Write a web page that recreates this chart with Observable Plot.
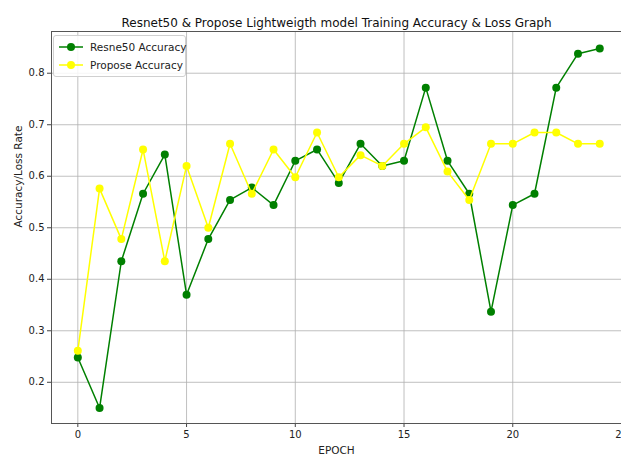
<!DOCTYPE html>
<html><head><meta charset="utf-8">
<script src="https://cdn.jsdelivr.net/npm/d3@7"></script>
<script src="https://cdn.jsdelivr.net/npm/@observablehq/plot@0.6"></script>
<style>
html,body{margin:0;padding:0;background:#fff;overflow:hidden;}
#wrap{position:relative;width:621px;height:459px;font-family:"DejaVu Sans",sans-serif;}
#legend{position:absolute;left:53px;top:35px;width:133px;height:42px;border:1px solid #d0d0d0;border-radius:3px;background:rgba(255,255,255,0.85);box-sizing:border-box;font-size:10.5px;color:#222;}
.item{position:absolute;left:4px;height:16px;display:flex;align-items:center;white-space:nowrap;}
.item svg{margin-right:6px;flex:none;}
</style>
</head><body>
<div id="wrap"><div id="chart"></div><div id="legend"></div></div>
<script>
const epochs = [0,1,2,3,4,5,6,7,8,9,10,11,12,13,14,15,16,17,18,19,20,21,22,23,24];
const resnetAcc = [0.248,0.150,0.435,0.566,0.642,0.370,0.478,0.554,0.578,0.544,0.630,0.652,0.587,0.663,0.620,0.630,0.772,0.630,0.566,0.337,0.544,0.566,0.772,0.838,0.848];
const proposeAcc = [0.261,0.576,0.478,0.652,0.435,0.620,0.500,0.663,0.566,0.652,0.598,0.685,0.598,0.641,0.620,0.663,0.695,0.609,0.554,0.663,0.663,0.685,0.685,0.663,0.663];
const seriesNames = ["Resne50 Accuracy","Propose Accuracy"];
const seriesColors = ["green","yellow"];
const xTicks = [0,5,10,15,20,25];
const yTicks = [0.2,0.3,0.4,0.5,0.6,0.7,0.8];
const titleText = "Resnet50 & Propose Lightweigth model Training Accuracy & Loss Graph";
const xLabel = "EPOCH";
const yLabel = "Accuracy/Loss Rate";

const resData = epochs.map((e,i)=>({epoch:e, value:resnetAcc[i]}));
const proData = epochs.map((e,i)=>({epoch:e, value:proposeAcc[i]}));

const chart = Plot.plot({
  width:621, height:459,
  marginLeft:51, marginRight:0, marginTop:31, marginBottom:36,
  style:{fontFamily:"DejaVu Sans, sans-serif", fontSize:"10px", color:"#222", background:"#fff"},
  x:{domain:[-1.21,25.0], label:null},
  y:{domain:[0.12,0.881], label:null},
  marks:[
    Plot.gridX(xTicks,{stroke:"#b0b0b0", strokeOpacity:1, strokeWidth:0.8}),
    Plot.gridY(yTicks,{stroke:"#b0b0b0", strokeOpacity:1, strokeWidth:0.8}),
    Plot.axisX(xTicks,{tickSize:4, tickPadding:3, tickFormat:d=>String(d), fontSize:10, stroke:"#444", label:null}),
    Plot.axisY(yTicks,{tickSize:4, tickPadding:3, tickFormat:d=>d.toFixed(1), fontSize:10, stroke:"#444", label:null}),
    Plot.frame({stroke:"#555", strokeWidth:1}),
    Plot.line(resData,{x:"epoch", y:"value", stroke:seriesColors[0], strokeWidth:1.5}),
    Plot.dot(resData,{x:"epoch", y:"value", fill:seriesColors[0], r:4}),
    Plot.line(proData,{x:"epoch", y:"value", stroke:seriesColors[1], strokeWidth:1.5}),
    Plot.dot(proData,{x:"epoch", y:"value", fill:seriesColors[1], r:4}),
    Plot.text([titleText],{frameAnchor:"top", dy:-13, fontSize:12, fill:"#111"}),
    Plot.text([xLabel],{frameAnchor:"bottom", dy:30, fontSize:10.5, fill:"#222"}),
    Plot.text([yLabel],{frameAnchor:"left", dx:-33, rotate:-90, fontSize:10.5, fill:"#222"})
  ]
});
document.getElementById("chart").appendChild(chart);

const legend = document.getElementById("legend");
seriesNames.forEach((name,i)=>{
  const it = document.createElement("div");
  it.className="item";
  it.style.top = (3 + i*18) + "px";
  it.innerHTML = `<svg width="26" height="10"><line x1="1" x2="25" y1="5" y2="5" stroke="${seriesColors[i]}" stroke-width="1.5"/><circle cx="13" cy="5" r="4" fill="${seriesColors[i]}"/></svg>`;
  const s = document.createElement("span");
  s.textContent = name;
  it.appendChild(s);
  legend.appendChild(it);
});
</script>
</body></html>
